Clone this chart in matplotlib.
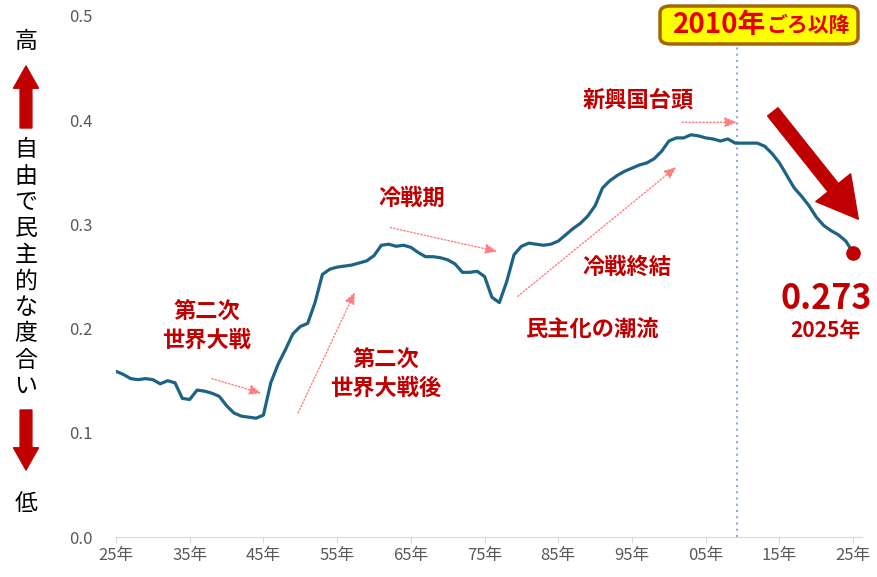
import matplotlib
matplotlib.use("Agg")
import matplotlib.pyplot as plt
from matplotlib.patches import FancyBboxPatch, FancyArrowPatch

plt.rcParams['font.family'] = ['Noto Sans CJK JP', 'DejaVu Sans']

# democracy index, yearly
years = list(range(1925, 2026))
values = [
    0.159, 0.156, 0.152, 0.151, 0.152, 0.151, 0.147, 0.150, 0.148, 0.133,  # 1925-34
    0.132, 0.141, 0.140, 0.138, 0.135, 0.126, 0.119, 0.116, 0.115, 0.114,  # 1935-44
    0.117, 0.148, 0.166, 0.180, 0.195, 0.202, 0.205, 0.225, 0.252, 0.257,  # 1945-54
    0.259, 0.260, 0.261, 0.263, 0.265, 0.270, 0.280, 0.281, 0.279, 0.280,  # 1955-64
    0.278, 0.273, 0.269, 0.269, 0.268, 0.266, 0.262, 0.254, 0.254, 0.255,  # 1965-74
    0.250, 0.230, 0.225, 0.245, 0.271, 0.279, 0.282, 0.281, 0.280, 0.281,  # 1975-84
    0.284, 0.290, 0.296, 0.301, 0.308, 0.318, 0.335, 0.342, 0.347, 0.351,  # 1985-94
    0.354, 0.357, 0.359, 0.363, 0.370, 0.380, 0.383, 0.383, 0.386, 0.385,  # 1995-2004
    0.383, 0.382, 0.380, 0.382, 0.378, 0.378, 0.378, 0.378, 0.375, 0.368,  # 2005-14
    0.359, 0.347, 0.335, 0.327, 0.318, 0.307, 0.299, 0.294, 0.290, 0.284,  # 2015-24
    0.273,                                                                 # 2025
]
tick_years = list(range(1925, 2026, 10))
yticks = [0.0, 0.1, 0.2, 0.3, 0.4, 0.5]

LINE = '#1D6383'
DARKRED = '#C00000'
PINK = '#FF7C80'

W, H = 877, 577
fig = plt.figure(figsize=(W / 100, H / 100), dpi=100)
ax = fig.add_axes([116 / W, 40 / H, 746 / W, 521 / H])


def px(x, y):
    # pixel position (from top-left) -> figure fraction
    return x / W, 1 - y / H


ax.plot(years, values, color=LINE, lw=2.3, solid_joinstyle='round', zorder=3)
ax.plot(years[-1], values[-1], 'o', color=DARKRED, ms=9.5, zorder=4)

ax.set_xlim(1925, 2026.2)
ax.set_ylim(0, 0.5)
ax.set_xticks(tick_years)
ax.set_xticklabels([f"{y % 100:02d}年" for y in tick_years])
ax.set_yticks(yticks)
ax.set_yticklabels([f"{v:.1f}" for v in yticks])
for s in ['top', 'right', 'left']:
    ax.spines[s].set_visible(False)
ax.spines['bottom'].set_color('#D9D9D9')
ax.tick_params(axis='x', colors='#D9D9D9', length=4, labelcolor='#595959',
               labelsize=12, pad=3)
ax.tick_params(axis='y', length=0, labelcolor='#595959', labelsize=12, pad=17)

# 2010 marker line
ax.axvline(2009.3, ymax=0.945, color='#8EA9DB', lw=1.5, ls=(0, (1, 2)), zorder=2)

# annotations
txt = dict(color=DARKRED, fontsize=16, fontweight='bold', ha='center',
           va='center', linespacing=1.25)
ax.text(1937.3, 0.202, "第二次\n世界大戦", **txt)
ax.text(1961.6, 0.156, "第二次\n世界大戦後", **txt)
ax.text(1965.1, 0.325, "冷戦期", **txt)
ax.text(1994.3, 0.259, "冷戦終結", **txt)
ax.text(1989.7, 0.198, "民主化の潮流", **txt)
ax.text(1995.8, 0.419, "新興国台頭", **txt)

arr = dict(arrowstyle='-|>,head_length=0.7,head_width=0.3', color=PINK,
           lw=1, ls=(0, (1, 1.5)), shrinkA=0, shrinkB=0)
ax.annotate("", xy=(1944.7, 0.138), xytext=(1938.0, 0.152), arrowprops=arr)
ax.annotate("", xy=(1957.4, 0.235), xytext=(1949.7, 0.119), arrowprops=arr)
ax.annotate("", xy=(1976.7, 0.274), xytext=(1962.2, 0.297), arrowprops=arr)
ax.annotate("", xy=(2001.0, 0.355), xytext=(1979.5, 0.231), arrowprops=arr)
ax.annotate("", xy=(2009.2, 0.398), xytext=(2001.8, 0.398), arrowprops=arr)

# big downward arrow
ax.annotate("", xy=(2025.7, 0.305), xytext=(2014.1, 0.408),
            arrowprops=dict(arrowstyle='simple,head_length=29,head_width=32,tail_width=9.5',
                            mutation_scale=1, color=DARKRED, shrinkA=0, shrinkB=0))

ax.text(2021.3, 0.229, "0.273", color=DARKRED, fontsize=24.5, fontweight='bold',
        ha='center', va='center')
ax.text(2021.3, 0.198, "2025年", color=DARKRED, fontsize=15, fontweight='bold',
        ha='center', va='center')

# label box
box = FancyBboxPatch(px(660, 44), 198 / W, 38 / H,
                     boxstyle='round,pad=0,rounding_size=0.012',
                     transform=fig.transFigure, facecolor='#FFFF00',
                     edgecolor='#A5650A', lw=2.5, zorder=5)
fig.patches.append(box)
fig.text(*px(766, 25), "2010年", color='#E60000', fontsize=20, fontweight='bold',
         ha='right', va='center', zorder=6)
fig.text(*px(766, 26), "ごろ以降", color='#E60000', fontsize=15, fontweight='bold',
         ha='left', va='center', zorder=6)

# left vertical caption
cap = dict(fontsize=16.5, color='black', ha='center', va='center')
fig.text(*px(26, 41), "高", **cap)
for i, ch in enumerate("自由で民主的な度合い"):
    fig.text(*px(26, 150 + i * 26.3), ch, **cap)
fig.text(*px(26, 503), "低", **cap)

blk = dict(arrowstyle='simple,head_length=16,head_width=18,tail_width=8.5',
           mutation_scale=1, color=DARKRED, shrinkA=0, shrinkB=0)
fig.add_artist(FancyArrowPatch(px(26, 128), px(26, 66),
                               transform=fig.transFigure, **blk))
fig.add_artist(FancyArrowPatch(px(26, 410), px(26, 470),
                               transform=fig.transFigure, **blk))

fig.savefig("out.png", dpi=100)
